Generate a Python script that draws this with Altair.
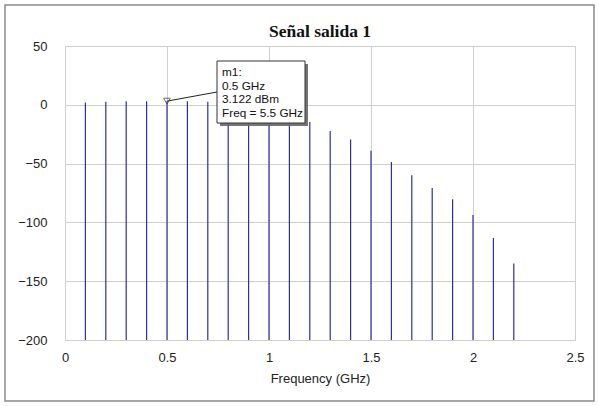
import altair as alt
import pandas as pd

# data
freq_ghz = [0.1, 0.2, 0.3, 0.4, 0.5, 0.6, 0.7, 0.8, 0.9, 1.0, 1.1,
            1.2, 1.3, 1.4, 1.5, 1.6, 1.7, 1.8, 1.9, 2.0, 2.1, 2.2]
power_dbm = [2.0, 2.5, 3.0, 3.1, 3.122, 3.0, 2.6, 1.0, -1.0, -4.0, -8.5,
             -14.6, -22.3, -29.6, -39.0, -48.6, -60.0, -70.7, -80.4, -93.7, -113.3, -135.0]
x_ticks = [0, 0.5, 1, 1.5, 2, 2.5]
y_ticks = [-200, -150, -100, -50, 0, 50]
marker_freq = [0.5]
marker_val = [3.122]
marker_text = ["m1:", "0.5 GHz", "3.122 dBm", "Freq = 5.5 GHz"]
title_text = "Señal salida 1"

df = pd.DataFrame({"f": freq_ghz, "p": power_dbm})
mk = pd.DataFrame({"f": marker_freq, "p": marker_val})

W, H = 510, 294
FONT = "Liberation Sans"

xs = alt.Scale(domain=[0, 2.5], nice=False, zero=False)
ys = alt.Scale(domain=[-200, 50], nice=False, zero=False)

xax = alt.Axis(values=x_ticks, format="~g", title="Frequency (GHz)", grid=True, gridColor="#cfcfcf",
               ticks=False, domain=False, labelPadding=11, labelFontSize=13,
               labelFont=FONT, labelColor="#222", titleFont=FONT, titleFontSize=13,
               titleFontWeight="normal", titleColor="#222", titlePadding=8,
               labelFlush=False)
yax = alt.Axis(values=y_ticks, title=None, grid=True, gridColor="#cfcfcf",
               ticks=False, domain=False, labelPadding=18, labelFontSize=13,
               labelFont=FONT, labelColor="#222", labelFlush=False)

bars = alt.Chart(df).mark_rule(color="#2e2ea6", strokeWidth=1.2).encode(
    x=alt.X("f:Q", scale=xs, axis=xax),
    y=alt.Y("p:Q", scale=ys, axis=yax),
    y2=alt.datum(-200),
)

tri = alt.Chart(mk).mark_point(shape="triangle-down", filled=False, color="#333",
                               size=45, strokeWidth=1).encode(
    x=alt.X("f:Q", scale=xs), y=alt.Y("p:Q", scale=ys))

leader = alt.Chart(mk).mark_rule(color="#222", strokeWidth=1).encode(
    x=alt.X("f:Q", scale=xs), y=alt.Y("p:Q", scale=ys),
    x2=alt.value(152), y2=alt.value(46))

shadow = alt.Chart(mk).mark_rect(fill="#666", opacity=0.9).encode(
    x=alt.value(155), x2=alt.value(243), y=alt.value(18), y2=alt.value(80))
box = alt.Chart(mk).mark_rect(fill="white", stroke="#333", strokeWidth=1).encode(
    x=alt.value(152), x2=alt.value(240), y=alt.value(15), y2=alt.value(77))
label = alt.Chart(mk).mark_text(align="left", baseline="top", font=FONT, fontSize=11.8,
                                lineHeight=13.5, color="#111").encode(
    x=alt.value(157), y=alt.value(21), text=alt.value(marker_text))

title = alt.Chart(mk).mark_text(align="center", baseline="alphabetic", font="Liberation Serif",
                                fontSize=17.5, fontWeight="bold", color="#111").encode(
    x=alt.value(W / 2), y=alt.value(-9), text=alt.value(title_text))

outer = alt.Chart(mk).mark_rect(fill=None, stroke="#8a8a8a", strokeWidth=1.5).encode(
    x=alt.value(-60), x2=alt.value(529), y=alt.value(-41), y2=alt.value(355))

chart = alt.layer(outer, bars, tri, leader, shadow, box, label, title).properties(
    width=W, height=H,
    autosize=alt.AutoSizeParams(type="none"),
    padding={"left": 65, "top": 46, "right": 24, "bottom": 66},
).configure_view(stroke="#111", strokeWidth=1).configure(background="white")

chart.save("out.html", embed_options={"renderer": "svg", "actions": False})
